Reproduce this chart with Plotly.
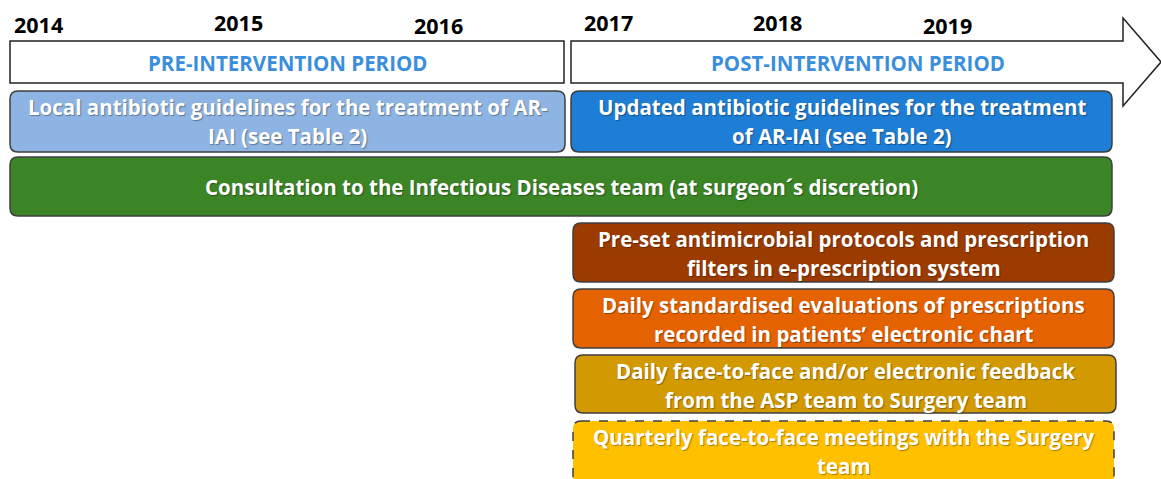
import plotly.graph_objects as go

# ---- data ----
years = ["2014", "2015", "2016", "2017", "2018", "2019"]

periods = ["PRE-INTERVENTION PERIOD", "POST-INTERVENTION PERIOD"]

interventions = [
    "Local antibiotic guidelines for the treatment of AR-\nIAI (see Table 2)",
    "Updated antibiotic guidelines for the treatment\nof AR-IAI (see Table 2)",
    "Consultation to the Infectious Diseases team (at surgeon\u00b4s discretion)",
    "Pre-set antimicrobial protocols and prescription\nfilters in e-prescription system",
    "Daily standardised evaluations of prescriptions\nrecorded in patients\u2019 electronic chart",
    "Daily face-to-face and/or electronic feedback\nfrom the ASP team to Surgery team",
    "Quarterly face-to-face meetings with the Surgery\nteam",
]

# ---- geometry / style (pixel layout) ----
year_x = [38, 238, 438, 608, 777, 947]
year_y = [24, 22, 25, 22, 22, 25]
boxes = [  # x0, x1, y0, y1
    (10, 565, 91, 152),
    (571, 1112, 91, 152),
    (10, 1112, 157, 216),
    (573, 1114, 223, 282),
    (573, 1114, 289, 348),
    (575, 1116, 355, 413),
    (573, 1114, 421, 484),
]
fills = ["#8DB4E2", "#1E7DD4", "#3B8526", "#9C3B00", "#E46200", "#D29A00", "#FFC000"]
dashes = ["solid"] * 6 + ["dash"]

W, H = 1161, 479
FONT = "Open Sans"


def rrect(x0, x1, y0, y1, r=8):
    return (f"M{x0+r},{y0} L{x1-r},{y0} Q{x1},{y0} {x1},{y0+r} "
            f"L{x1},{y1-r} Q{x1},{y1} {x1-r},{y1} L{x0+r},{y1} "
            f"Q{x0},{y1} {x0},{y1-r} L{x0},{y0+r} Q{x0},{y0} {x0+r},{y0} Z")


fig = go.Figure()
shapes = []
annotations = []

# period boxes
shapes.append(dict(type="rect", x0=10, x1=564, y0=41, y1=83,
                   line=dict(color="#222222", width=1.5), fillcolor="white"))
arrow = "M571,41 L1123,41 L1123,18 L1161,62 L1123,106 L1123,83 L571,83 Z"
shapes.append(dict(type="path", path=arrow,
                   line=dict(color="#222222", width=1.5), fillcolor="white"))
for lab, cx in zip(periods, [287, 858]):
    annotations.append(dict(x=cx, y=63, text=f"<b>{lab}</b>", showarrow=False,
                            font=dict(family=FONT, size=20.5, color="#3A8EDC"),
                            xanchor="center", yanchor="middle"))

for yr, xx, yy in zip(years, year_x, year_y):
    annotations.append(dict(x=xx, y=yy, text=f"<b>{yr}</b>", showarrow=False,
                            font=dict(family=FONT, size=21.5, color="black"),
                            xanchor="center", yanchor="middle"))

for lab, (x0, x1, y0, y1), fc, ds in zip(interventions, boxes, fills, dashes):
    shapes.append(dict(type="path", path=rrect(x0, x1, y0, y1),
                       fillcolor=fc, line=dict(color="#3F3F3F", width=1.5, dash=ds)))
    lines = lab.split("\n")
    cx = (x0 + x1) / 2
    if len(lines) == 1:
        ys = [(y0 + y1) / 2]
    else:
        ys = [y0 + 16, y0 + 45]
    for ln, yy in zip(lines, ys):
        annotations.append(dict(x=cx, y=yy, text=f"<b>{ln}</b>", showarrow=False,
                                font=dict(family=FONT, size=20.5, color="white",
                                          shadow="1px 1px 1px rgba(0,0,0,0.35)"),
                                xanchor="center", yanchor="middle"))

fig.update_layout(
    width=W, height=H,
    margin=dict(l=0, r=0, t=0, b=0),
    paper_bgcolor="white", plot_bgcolor="white",
    xaxis=dict(range=[0, W], visible=False, fixedrange=True),
    yaxis=dict(range=[H, 0], visible=False, fixedrange=True),
    shapes=shapes, annotations=annotations, showlegend=False,
)

fig.write_html("out.html", config={"displayModeBar": False},
               post_script="document.body.style.margin='0';document.body.style.overflow='hidden';")
